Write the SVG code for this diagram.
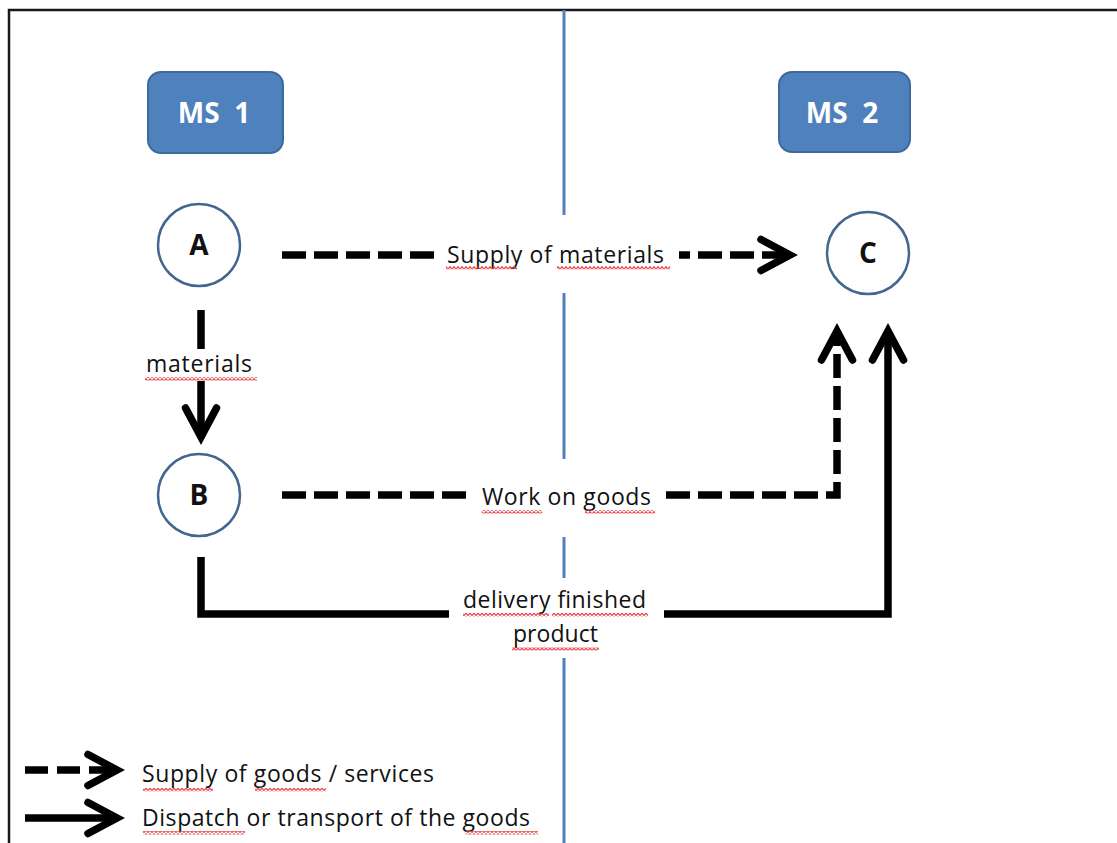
<svg xmlns="http://www.w3.org/2000/svg" width="1117" height="843" viewBox="0 0 1117 843">
<style>
.frame{stroke:#1a1a1a;stroke-width:2.5;fill:none}
.divider{stroke:#4F81BD;stroke-width:3}
.box{fill:#4F81BD;stroke:#3D6A9E;stroke-width:2}
.boxtxt{font-family:"Open Sans","Liberation Sans",sans-serif;font-weight:bold;font-size:28px;fill:#fff;text-anchor:middle;white-space:pre}
.circ{fill:#fff;stroke:#41668F;stroke-width:2.5}
.ctxt{font-family:"Open Sans","Liberation Sans",sans-serif;font-weight:bold;font-size:28px;fill:#111;text-anchor:middle}
.solid{stroke:#000;stroke-width:7.5;fill:none;marker-end:url(#arr)}
.dash{stroke:#000;stroke-width:7.5;fill:none;stroke-dasharray:24 8;marker-end:url(#arr)}
.lbg{fill:#fff}
.lbl{font-family:"Open Sans","Liberation Sans",sans-serif;font-size:23px;fill:#111}
.sq{fill:url(#squig)}
</style>
<defs>
<marker id="arr" markerUnits="userSpaceOnUse" viewBox="-45 -25 55 50" markerWidth="55" markerHeight="50" refX="0" refY="0" orient="auto">
<path d="M-29,-15.5 L0,0 L-29,15.5" fill="none" stroke="#000" stroke-width="7.5" stroke-linecap="round" stroke-linejoin="miter"/>
</marker>
<pattern id="squig" patternUnits="userSpaceOnUse" width="4" height="3.5">
<path d="M0,3 L2,0.7 L4,3" fill="none" stroke="#E8323C" stroke-width="1.2"/>
</pattern>
</defs>
<rect width="1117" height="843" fill="#fff"/>
<path class="frame" d="M9,843 V10 H1117"/>
<line class="divider" x1="564" y1="10" x2="564" y2="843"/>
<g id="connectors">
<path id="supply-materials" class="dash" d="M282,255 H790"/>
<path id="materials" class="solid" d="M201,310 V437"/>
<path id="work-on-goods" class="dash" d="M282,495 H837 V331"/>
<path id="delivery" class="solid" d="M201,557 V614 H888 V331"/>
<path id="legend-dash" class="dash" style="stroke-dasharray:23 9" d="M25,770 H117"/>
<path id="legend-solid" class="solid" d="M25,818 H117"/>
</g>
<g id="labels">
<rect class="lbg" x="434" y="215" width="245" height="78"/>
<text class="lbl" x="447" y="263" textLength="217" lengthAdjust="spacing">Supply of materials</text>
<rect class="sq" x="446" y="266" width="71" height="3.5"/>
<rect class="sq" x="557" y="266" width="113" height="3.5"/>
<rect class="lbg" x="140" y="349" width="120" height="32"/>
<text class="lbl" x="146" y="372" textLength="106" lengthAdjust="spacing">materials</text>
<rect class="sq" x="145" y="377" width="112" height="3.5"/>
<rect class="lbg" x="466" y="459" width="199" height="78"/>
<text class="lbl" x="482" y="505" textLength="169" lengthAdjust="spacing">Work on goods</text>
<rect class="sq" x="482" y="510" width="60" height="3.5"/>
<rect class="sq" x="585" y="510" width="70" height="3.5"/>
<rect class="lbg" x="449" y="578" width="215" height="80"/>
<text class="lbl" x="463" y="608" textLength="183" lengthAdjust="spacing">delivery finished</text>
<text class="lbl" x="513" y="642" textLength="85" lengthAdjust="spacing">product</text>
<rect class="sq" x="463" y="613" width="86" height="3.5"/>
<rect class="sq" x="552" y="613" width="96" height="3.5"/>
<rect class="sq" x="512" y="647" width="87" height="3.5"/>
<text class="lbl" x="142" y="782" textLength="292" lengthAdjust="spacing">Supply of goods / services</text>
<rect class="sq" x="143" y="788" width="70" height="3.5"/>
<rect class="sq" x="255" y="788" width="71" height="3.5"/>
<text class="lbl" x="142" y="826" textLength="388" lengthAdjust="spacing">Dispatch or transport of the goods</text>
<rect class="sq" x="143" y="831" width="102" height="3.5"/>
<rect class="sq" x="466" y="831" width="72" height="3.5"/>
</g>
<g id="ms1">
<rect class="box" x="148" y="72" width="135" height="81" rx="13"/>
<text class="boxtxt" x="214" y="123">MS  1</text>
</g>
<g id="ms2">
<rect class="box" x="779" y="72" width="131" height="80" rx="13"/>
<text class="boxtxt" x="842" y="123">MS  2</text>
</g>
<g id="node-a">
<circle class="circ" cx="199" cy="245" r="41"/>
<text class="ctxt" x="199" y="255">A</text>
</g>
<g id="node-b">
<circle class="circ" cx="199" cy="495" r="41"/>
<text class="ctxt" x="199" y="505">B</text>
</g>
<g id="node-c">
<circle class="circ" cx="868" cy="253" r="41"/>
<text class="ctxt" x="868" y="263">C</text>
</g>
</svg>
